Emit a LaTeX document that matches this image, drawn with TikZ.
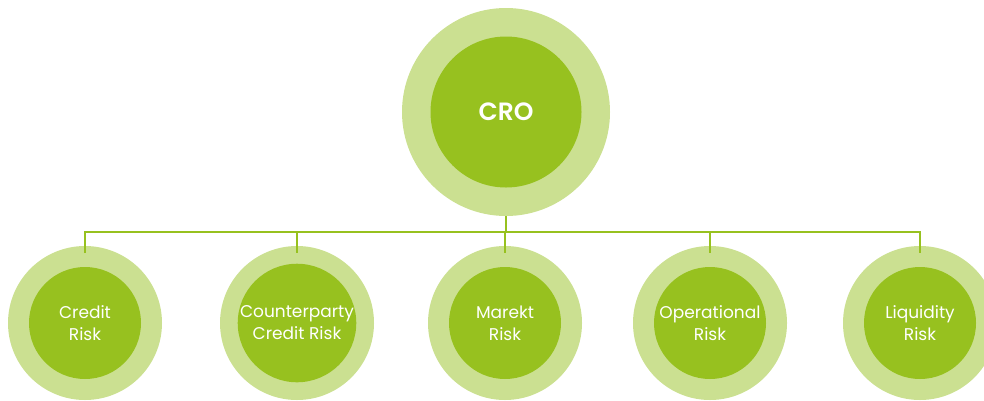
\documentclass[tikz,border=0pt]{standalone}
\usepackage{fontspec}
\setmainfont{Poppins}
\newfontfamily\semib{Poppins SemiBold}
\definecolor{outerg}{HTML}{CBE091}
\definecolor{innerg}{HTML}{97C11F}
\begin{document}
\begin{tikzpicture}[x=1pt,y=-1pt,
  outerc/.style={circle,fill=outerg,minimum size=#1,inner sep=0pt},
  innerc/.style={circle,fill=innerg,minimum size=#1,inner sep=0pt,text=white,align=center},
  conn/.style={draw=innerg,line width=2.5pt}]
\useasboundingbox (0,0) rectangle (984,400);
\begin{scope}
\clip (0,0) rectangle (984,400);
\node[outerc=208pt] (topo) at (506,112) {};
\node[innerc=151pt,font=\semib\fontsize{25}{30}\selectfont] (top) at (506,112) {CRO};
\coordinate (bar) at (506,232);
\foreach \n/\x in {a/85,b/297,c/505,d/710,e/920}{
  \node[outerc=154pt] (\n o) at (\x,323) {};
  \coordinate (\n t) at (\x,253);
  \coordinate (\n h) at (\x,232);
}
\draw[conn] (topo.south) -- (bar);
\draw[conn] (at) -- (ah) -- (eh) -- (et);
\foreach \n in {b,c,d}{\draw[conn] (\n h) -- (\n t);}
\foreach \n/\x/\t in {a/85/{Credit\\Risk},b/297/{Counterparty\\Credit Risk},c/505/{Marekt\\Risk},d/710/{Operational\\Risk},e/920/{Liquidity\\Risk}}{
  \node[innerc=112pt,font=\fontsize{17}{22}\selectfont] (\n) at (\x,323) {\t};
}
\end{scope}
\end{tikzpicture}
\end{document}
